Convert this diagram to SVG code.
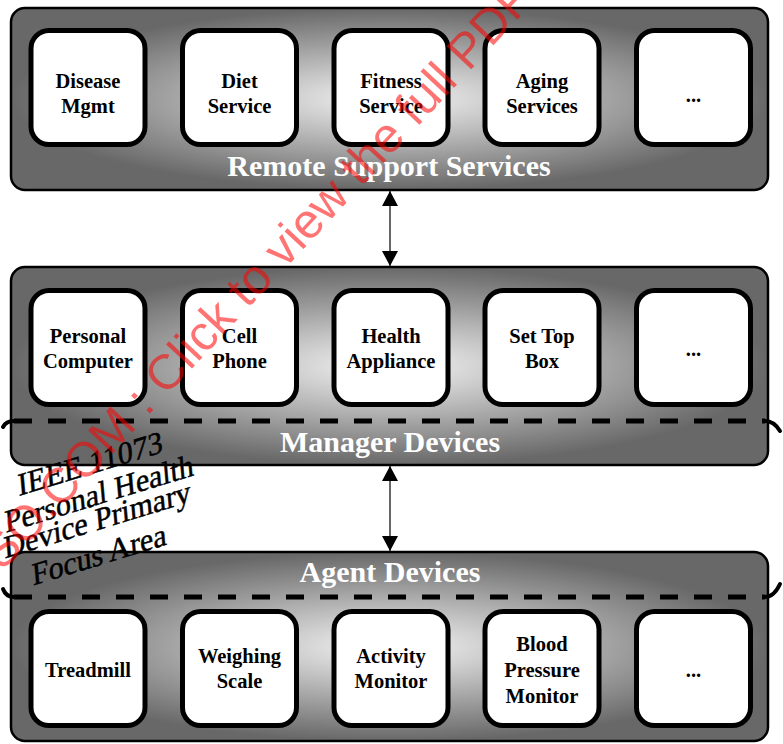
<svg xmlns="http://www.w3.org/2000/svg" width="783" height="744" viewBox="0 0 783 744">
<defs>
<radialGradient id="pg" cx="0.5" cy="0.5" r="0.5">
<stop offset="0" stop-color="#f4f4f4"/>
<stop offset="1" stop-color="#686868"/>
</radialGradient>
<marker id="ah" viewBox="0 0 15 16" refX="15" refY="8" markerWidth="15" markerHeight="16" markerUnits="userSpaceOnUse" orient="auto-start-reverse">
<path d="M0,0 L15,8 L0,16 Z" fill="#000"/>
</marker>
<style>
.panel{fill:url(#pg);stroke:#000;stroke-width:2.5}
.box{fill:#fff;stroke:#000;stroke-width:5}
.lbl{font-family:"Liberation Serif","Times New Roman",serif;font-weight:bold;font-size:20.5px;text-anchor:middle;fill:#000}
.title{font-family:"Liberation Serif","Times New Roman",serif;font-weight:bold;font-size:30px;text-anchor:middle;fill:#fff}
.dash{fill:none;stroke:#000;stroke-width:5;stroke-dasharray:18 16}
.hook{fill:none;stroke:#000;stroke-width:4;stroke-linecap:round}
.conn{stroke:#333;stroke-width:1.5;marker-start:url(#ah);marker-end:url(#ah)}
.focus{font-family:"Liberation Serif","Times New Roman",serif;font-size:31px;text-anchor:middle;fill:#000;stroke:#000;stroke-width:0.5}
.wm{font-family:"Liberation Sans",Arial,sans-serif;font-size:49px;fill:#ff0000;fill-opacity:0.55}
</style>
</defs>

<g id="remote-support-services">
<rect class="panel" x="11" y="8" width="757" height="182" rx="14"/>
<text class="title" x="389" y="176">Remote Support Services</text>
</g>
<g id="disease-mgmt"><rect class="box" x="31" y="30.5" width="114" height="114" rx="18"/><text class="lbl" x="88" y="88">Disease</text><text class="lbl" x="88" y="113">Mgmt</text></g>
<g id="diet-service"><rect class="box" x="182.5" y="30.5" width="114" height="114" rx="18"/><text class="lbl" x="239.5" y="88">Diet</text><text class="lbl" x="239.5" y="113">Service</text></g>
<g id="fitness-service"><rect class="box" x="334" y="30.5" width="114" height="114" rx="18"/><text class="lbl" x="391" y="88">Fitness</text><text class="lbl" x="391" y="113">Service</text></g>
<g id="aging-services"><rect class="box" x="485" y="30.5" width="114" height="114" rx="18"/><text class="lbl" x="542" y="88">Aging</text><text class="lbl" x="542" y="113">Services</text></g>
<g id="remote-more"><rect class="box" x="636.5" y="30.5" width="114" height="114" rx="18"/><text class="lbl" x="693.5" y="102">...</text></g>

<g id="manager-devices">
<rect class="panel" x="11" y="267" width="757" height="198" rx="14"/>
<text class="title" x="390" y="452">Manager Devices</text>
</g>
<g id="personal-computer"><rect class="box" x="31" y="290.5" width="114" height="114" rx="18"/><text class="lbl" x="88" y="343">Personal</text><text class="lbl" x="88" y="368">Computer</text></g>
<g id="cell-phone"><rect class="box" x="182.5" y="290.5" width="114" height="114" rx="18"/><text class="lbl" x="239.5" y="343">Cell</text><text class="lbl" x="239.5" y="368">Phone</text></g>
<g id="health-appliance"><rect class="box" x="334" y="290.5" width="114" height="114" rx="18"/><text class="lbl" x="391" y="343">Health</text><text class="lbl" x="391" y="368">Appliance</text></g>
<g id="set-top-box"><rect class="box" x="485" y="290.5" width="114" height="114" rx="18"/><text class="lbl" x="542" y="343">Set Top</text><text class="lbl" x="542" y="368">Box</text></g>
<g id="manager-more"><rect class="box" x="636.5" y="290.5" width="114" height="114" rx="18"/><text class="lbl" x="693.5" y="356">...</text></g>

<g id="agent-devices">
<rect class="panel" x="11" y="552" width="757" height="189" rx="14"/>
<text class="title" x="390" y="582">Agent Devices</text>
</g>
<g id="treadmill"><rect class="box" x="31" y="611.5" width="114" height="114" rx="18"/><text class="lbl" x="88" y="677">Treadmill</text></g>
<g id="weighing-scale"><rect class="box" x="182.5" y="611.5" width="114" height="114" rx="18"/><text class="lbl" x="239.5" y="663">Weighing</text><text class="lbl" x="239.5" y="688">Scale</text></g>
<g id="activity-monitor"><rect class="box" x="334" y="611.5" width="114" height="114" rx="18"/><text class="lbl" x="391" y="663">Activity</text><text class="lbl" x="391" y="688">Monitor</text></g>
<g id="blood-pressure-monitor"><rect class="box" x="485" y="611.5" width="114" height="114" rx="18"/><text class="lbl" x="542" y="651">Blood</text><text class="lbl" x="542" y="677">Pressure</text><text class="lbl" x="542" y="703">Monitor</text></g>
<g id="agent-more"><rect class="box" x="636.5" y="611.5" width="114" height="114" rx="18"/><text class="lbl" x="693.5" y="677">...</text></g>

<g id="focus-area">
<path class="dash" d="M14,421 L765,421"/>
<path class="hook" d="M3,427 Q6,421 14,421"/>
<path class="hook" d="M765,421 Q774,421 780,431"/>
<path class="dash" d="M14,597 L765,597"/>
<path class="hook" d="M3,589 Q6,597 14,597"/>
<path class="hook" d="M765,597 Q774,597 780,584"/>
<text class="focus" transform="translate(91,474) rotate(-17) skewX(-12)">IEEE 11073</text>
<text class="focus" transform="translate(100,504) rotate(-17) skewX(-12)">Personal Health</text>
<text class="focus" transform="translate(98,530) rotate(-17) skewX(-12)">Device Primary</text>
<text class="focus" transform="translate(100,565) rotate(-17) skewX(-12)">Focus Area</text>
</g>

<g id="connectors">
<line class="conn" x1="390" y1="191" x2="390" y2="266"/>
<line class="conn" x1="390" y1="466" x2="390" y2="551"/>
</g>

<text class="wm" transform="translate(-7,582) rotate(-47)">ISO.COM : Click to view the full PDF of</text>
</svg>
